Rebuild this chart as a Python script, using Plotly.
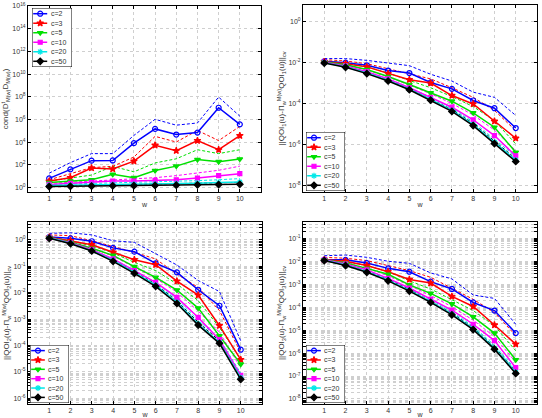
import plotly.graph_objects as go

# data (x = w, one row per c)
w_vals = list(range(1, 11))
c_labels = ["c=2", "c=3", "c=5", "c=10", "c=20", "c=50"]

cond_solid = [
    [6.6, 41, 240, 250, 8.3e3, 1.5e5, 4.8e4, 7.1e4, 1.1e7, 3.8e5],
    [3.8, 7.6, 54, 44, 220, 5.4e3, 1.8e3, 1.4e4, 2.2e3, 3.8e4],
    [2.8, 3.8, 5.0, 15, 7.6, 32, 79, 300, 195, 330],
    [1.95, 2.4, 2.95, 3.8, 3.8, 4.4, 5.0, 7.1, 11.5, 17],
    [1.58, 1.66, 1.78, 1.9, 2.0, 2.14, 2.29, 2.51, 2.82, 3.16],
    [1.26, 1.32, 1.38, 1.45, 1.51, 1.58, 1.66, 1.78, 1.86, 2.0],
]
cond_dash = [
    [19, 160, 1.0e3, 1.0e3, 4.0e4, 1.05e6, 3.2e5, 5.0e5, 9.5e7, 2.0e6],
    [5.0, 17, 58, 76, 500, 3.3e4, 1.05e4, 1.1e5, 1.4e4, 2.5e5],
    [3.8, 6.6, 13, 76, 25, 150, 350, 2.2e3, 1.0e3, 2.2e3],
    [2.4, 2.95, 3.8, 5.0, 5.75, 7.6, 11.5, 19.5, 34, 79],
    [1.9, 2.1, 2.29, 2.51, 2.82, 3.16, 3.55, 4.17, 5.0, 6.3],
    [1.41, 1.51, 1.58, 1.7, 1.82, 2.0, 2.14, 2.34, 2.63, 2.95],
]

qoi1_solid = [
    [1.17e-2, 1.0e-2, 7.4e-3, 4.1e-3, 3.1e-3, 1.07e-3, 5.2e-4, 1.4e-4, 5.9e-5, 6.3e-6],
    [1.12e-2, 8.9e-3, 6.2e-3, 2.9e-3, 1.45e-3, 1.0e-3, 2.45e-4, 9.5e-5, 1.35e-5, 2.0e-6],
    [1.07e-2, 7.8e-3, 4.6e-3, 2.1e-3, 8.5e-4, 3.3e-4, 1.3e-4, 3.5e-5, 6.9e-6, 4.1e-7],
    [1.05e-2, 6.9e-3, 3.6e-3, 1.6e-3, 5.9e-4, 2.0e-4, 6.6e-5, 1.6e-5, 2.7e-6, 2.75e-7],
    [1.0e-2, 6.2e-3, 3.1e-3, 1.35e-3, 5.0e-4, 1.6e-4, 4.6e-5, 9.3e-6, 1.26e-6, 1.7e-7],
    [9.5e-3, 5.9e-3, 2.9e-3, 1.26e-3, 4.7e-4, 1.45e-4, 4.1e-5, 8.3e-6, 1.1e-6, 1.45e-7],
]
qoi1_dash = [
    [1.58e-2, 1.58e-2, 1.29e-2, 9.5e-3, 7.1e-3, 2.7e-3, 1.26e-3, 3.6e-4, 2.0e-4, 2.6e-5],
    [1.41e-2, 1.2e-2, 8.9e-3, 5.0e-3, 2.7e-3, 1.6e-3, 5.9e-4, 2.0e-4, 4.6e-5, 4.7e-6],
    [1.26e-2, 9.5e-3, 6.2e-3, 3.1e-3, 1.35e-3, 5.9e-4, 2.2e-4, 7.1e-5, 1.45e-5, 1.05e-6],
    [1.15e-2, 7.9e-3, 4.4e-3, 2.0e-3, 7.9e-4, 3.0e-4, 1.0e-4, 2.75e-5, 5.0e-6, 5.0e-7],
    [1.07e-2, 6.8e-3, 3.5e-3, 1.6e-3, 6.0e-4, 2.0e-4, 5.9e-5, 1.26e-5, 1.8e-6, 2.5e-7],
    [1.02e-2, 6.3e-3, 3.2e-3, 1.4e-3, 5.4e-4, 1.7e-4, 5.0e-5, 1.07e-5, 1.5e-6, 2.0e-7],
]

qoi2_solid = [
    [1.29, 1.15, 0.89, 0.5, 0.36, 0.13, 0.059, 0.0129, 3.2e-3, 6.9e-5],
    [1.26, 0.93, 0.66, 0.34, 0.178, 0.115, 0.0275, 8.1e-3, 5.6e-4, 2.9e-5],
    [1.23, 0.81, 0.48, 0.26, 0.098, 0.038, 0.0126, 2.6e-3, 2.3e-4, 1.95e-5],
    [1.2, 0.78, 0.43, 0.19, 0.069, 0.0245, 6.6e-3, 1.15e-3, 1.66e-4, 7.4e-6],
    [1.2, 0.74, 0.39, 0.166, 0.059, 0.0195, 4.3e-3, 6.5e-4, 1.29e-4, 6.0e-6],
    [1.15, 0.72, 0.38, 0.155, 0.054, 0.0174, 3.9e-3, 5.9e-4, 1.2e-4, 5.2e-6],
]
qoi2_dash = [
    [1.78, 1.86, 1.55, 0.93, 0.81, 0.3, 0.112, 0.029, 0.011, 1.5e-4],
    [1.55, 1.45, 0.93, 0.58, 0.34, 0.19, 0.051, 0.0158, 2.1e-3, 5.4e-5],
    [1.38, 0.93, 0.6, 0.32, 0.141, 0.069, 0.0214, 5.0e-3, 4.8e-4, 3.0e-5],
    [1.32, 0.87, 0.5, 0.24, 0.093, 0.035, 0.0105, 2.0e-3, 3.2e-4, 1.4e-5],
    [1.26, 0.79, 0.43, 0.19, 0.071, 0.024, 5.6e-3, 8.9e-4, 1.78e-4, 8.9e-6],
    [1.23, 0.78, 0.42, 0.174, 0.063, 0.021, 4.8e-3, 7.6e-4, 1.5e-4, 7.1e-6],
]

qoi3_solid = [
    [1.17e-2, 1.15e-2, 8.3e-3, 4.9e-3, 3.5e-3, 1.29e-3, 6.2e-4, 1.6e-4, 7.1e-5, 7.4e-6],
    [1.15e-2, 1.0e-2, 6.5e-3, 3.5e-3, 1.6e-3, 1.12e-3, 2.95e-4, 1.07e-4, 1.66e-5, 2.45e-6],
    [1.15e-2, 8.3e-3, 4.9e-3, 2.7e-3, 9.3e-4, 4.0e-4, 1.38e-4, 3.8e-5, 7.4e-6, 5.1e-7],
    [1.15e-2, 7.6e-3, 4.2e-3, 1.8e-3, 6.8e-4, 2.2e-4, 7.4e-5, 1.8e-5, 3.5e-6, 2.3e-7],
    [1.1e-2, 6.8e-3, 3.5e-3, 1.5e-3, 5.4e-4, 1.74e-4, 5.0e-5, 1.15e-5, 1.66e-6, 1.45e-7],
    [1.07e-2, 6.5e-3, 3.3e-3, 1.4e-3, 5.0e-4, 1.6e-4, 4.6e-5, 1.05e-5, 1.48e-6, 1.29e-7],
]
qoi3_dash = [
    [1.74e-2, 1.86e-2, 1.48e-2, 1.0e-2, 8.1e-3, 3.1e-3, 1.7e-3, 3.4e-4, 2.4e-4, 1.8e-5],
    [1.48e-2, 1.35e-2, 1.07e-2, 6.5e-3, 3.9e-3, 2.0e-3, 6.6e-4, 2.2e-4, 5.9e-5, 5.8e-6],
    [1.26e-2, 9.5e-3, 6.5e-3, 3.5e-3, 1.4e-3, 6.2e-4, 2.1e-4, 7.1e-5, 1.55e-5, 1.26e-6],
    [1.26e-2, 8.7e-3, 5.0e-3, 2.3e-3, 8.9e-4, 3.2e-4, 1.05e-4, 2.7e-5, 5.2e-6, 4.0e-7],
    [1.17e-2, 7.4e-3, 3.9e-3, 1.74e-3, 6.3e-4, 2.1e-4, 6.3e-5, 1.45e-5, 2.2e-6, 1.9e-7],
    [1.12e-2, 6.9e-3, 3.6e-3, 1.6e-3, 5.8e-4, 1.86e-4, 5.5e-5, 1.26e-5, 1.86e-6, 1.6e-7],
]

# y tick exponents per panel
cond_ticks = [0, 2, 4, 6, 8, 10, 12, 14, 16]
qoi1_ticks = [0, -2, -4, -6, -8]
qoi2_ticks = [0, -1, -2, -3, -4, -5, -6]
qoi3_ticks = [-1, -2, -3, -4, -5, -6, -7, -8]

# styles (matlab-ish)
colors = ["#0000ff", "#ff0000", "#00e000", "#ff00ff", "#00e8e8", "#000000"]
symbols = ["circle-open", "star", "triangle-down", "square", "asterisk-open", "diamond"]
msizes = [5, 5, 5, 4, 5, 5]

W, H = 542, 418
FONT = "Liberation Sans, Arial, sans-serif"
TXT = "#333333"
GRID = "#cfcfcf"


def px_x(a, b):
    return [a / W, b / W]


def px_y(top, bottom):
    return [1 - bottom / H, 1 - top / H]


panels = [
    dict(solid=cond_solid, dash=cond_dash, ticks=cond_ticks, yrange=[-0.38, 16], minor=False,
         dom_x=px_x(28, 261), dom_y=px_y(6, 192), leg=(32, 72, 8, 67),
         ytitle="cond(D<sup>t</sup><sub>M(w)</sub>D<sub>M(w)</sub>)"),
    dict(solid=qoi1_solid, dash=qoi1_dash, ticks=qoi1_ticks, yrange=[-8.33, 0.82], minor=False,
         dom_x=px_x(303, 537), dom_y=px_y(5, 192), leg=(306, 345, 132, 191),
         ytitle="||QOI<sub>1</sub>(u)-Π<sub>w</sub><sup>M(w)</sup>QOI<sub>1</sub>(u)||<sub>cv</sub>"),
    dict(solid=qoi2_solid, dash=qoi2_dash, ticks=qoi2_ticks, yrange=[-6.22, 0.68], minor=True,
         dom_x=px_x(28, 262), dom_y=px_y(222, 404), leg=(30, 69, 345, 403),
         ytitle="||QOI<sub>2</sub>(u)-Π<sub>w</sub><sup>M(w)</sup>QOI<sub>2</sub>(u)||<sub>cv</sub>"),
    dict(solid=qoi3_solid, dash=qoi3_dash, ticks=qoi3_ticks, yrange=[-8.22, -0.29], minor=True,
         dom_x=px_x(303, 537), dom_y=px_y(222, 404), leg=(306, 345, 345, 403),
         ytitle="||QOI<sub>3</sub>(u)-Π<sub>w</sub><sup>M(w)</sup>QOI<sub>3</sub>(u)||<sub>cv</sub>"),
]

fig = go.Figure()
layout = {}
annotations = []

for k, p in enumerate(panels):
    n = k + 1
    xa, ya = ("x" if n == 1 else f"x{n}"), ("y" if n == 1 else f"y{n}")

    # dashed first, solid with markers on top
    for i in range(len(c_labels)):
        fig.add_trace(go.Scatter(
            x=w_vals, y=p["dash"][i], mode="lines", xaxis=xa, yaxis=ya,
            line=dict(color=colors[i], width=1, dash="3px,2px"), hoverinfo="skip"))
    for i in range(len(c_labels)):
        fig.add_trace(go.Scatter(
            x=w_vals, y=p["solid"][i], mode="lines+markers", xaxis=xa, yaxis=ya,
            name=c_labels[i],
            line=dict(color=colors[i], width=1.5),
            marker=dict(symbol=symbols[i], size=msizes[i], color=colors[i],
                        line=dict(color=colors[i], width=1.2))))

    # y ticks: decades, plus 2..9 minor ones on the lower panels
    tvals, ttext = [], []
    lo, hi = min(p["ticks"]), max(p["ticks"])
    for e in range(lo, hi + 1):
        if e in p["ticks"]:
            tvals.append(10.0 ** e)
            ttext.append(f"10<sup>{e}</sup>")
        if p["minor"] and e < hi:
            for m in range(2, 10):
                tvals.append(m * 10.0 ** e)
                ttext.append("")
    if p["minor"]:
        for m in range(2, 10):
            if m * 10.0 ** (lo - 1) > 10 ** p["yrange"][0]:
                tvals.append(m * 10.0 ** (lo - 1))
                ttext.append("")
            if m * 10.0 ** hi < 10 ** p["yrange"][1]:
                tvals.append(m * 10.0 ** hi)
                ttext.append("")

    ax_common = dict(showline=True, linecolor="black", linewidth=1, mirror="ticks",
                     ticks="inside", ticklen=3, tickcolor="black", automargin=False,
                     showgrid=True, gridcolor=GRID, griddash="dot", gridwidth=1,
                     zeroline=False, tickfont=dict(family=FONT, size=7, color=TXT))
    layout["xaxis" if n == 1 else f"xaxis{n}"] = dict(
        ax_common, domain=p["dom_x"], anchor=ya, range=[0, 11],
        tickmode="array", tickvals=w_vals, ticktext=[str(v) for v in w_vals],
        title=dict(text="w", font=dict(family=FONT, size=7, color=TXT), standoff=0))
    layout["yaxis" if n == 1 else f"yaxis{n}"] = dict(
        ax_common, domain=p["dom_y"], anchor=xa, type="log", range=p["yrange"],
        tickmode="array", tickvals=tvals, ticktext=ttext,
        title=dict(text=p["ytitle"], font=dict(family=FONT, size=8, color=TXT), standoff=2))

    # legend drawn as a small inset axes
    lx0, lx1, ly0, ly1 = p["leg"]
    ln = n + 4
    lxa, lya = f"x{ln}", f"y{ln}"
    layout[f"xaxis{ln}"] = dict(domain=px_x(lx0, lx1), anchor=lya, range=[0, 1],
                                visible=False, fixedrange=True)
    layout[f"yaxis{ln}"] = dict(domain=px_y(ly0, ly1), anchor=lxa, range=[6.6, 0.4],
                                visible=False, fixedrange=True)
    fig.add_trace(go.Scatter(x=[0, 1, 1, 0, 0], y=[0.4, 0.4, 6.6, 6.6, 0.4], mode="lines",
                             fill="toself", fillcolor="white", xaxis=lxa, yaxis=lya,
                             line=dict(color="black", width=1), hoverinfo="skip"))
    for i, lab in enumerate(c_labels):
        row = i + 1
        fig.add_trace(go.Scatter(x=[0.03, 0.38], y=[row, row], mode="lines", xaxis=lxa, yaxis=lya,
                                 line=dict(color=colors[i], width=1.5), hoverinfo="skip"))
        fig.add_trace(go.Scatter(x=[0.205], y=[row], mode="markers", xaxis=lxa, yaxis=lya,
                                 marker=dict(symbol=symbols[i], size=msizes[i], color=colors[i],
                                             line=dict(color=colors[i], width=1.2)),
                                 hoverinfo="skip"))
        annotations.append(dict(x=0.42, y=row, xref=lxa, yref=lya, text=lab, showarrow=False,
                                xanchor="left", yanchor="middle",
                                font=dict(family=FONT, size=7, color=TXT)))

fig.update_layout(
    width=W, height=H,
    margin=dict(l=0, r=0, t=0, b=0),
    paper_bgcolor="white", plot_bgcolor="white",
    showlegend=False,
    annotations=annotations,
    **layout,
)

# drop the default 8px page margin so the figure sits at the window corner
fig.write_html("out.html", config={"displayModeBar": False},
               post_script="document.body.style.margin='0';document.body.style.overflow='hidden';")
